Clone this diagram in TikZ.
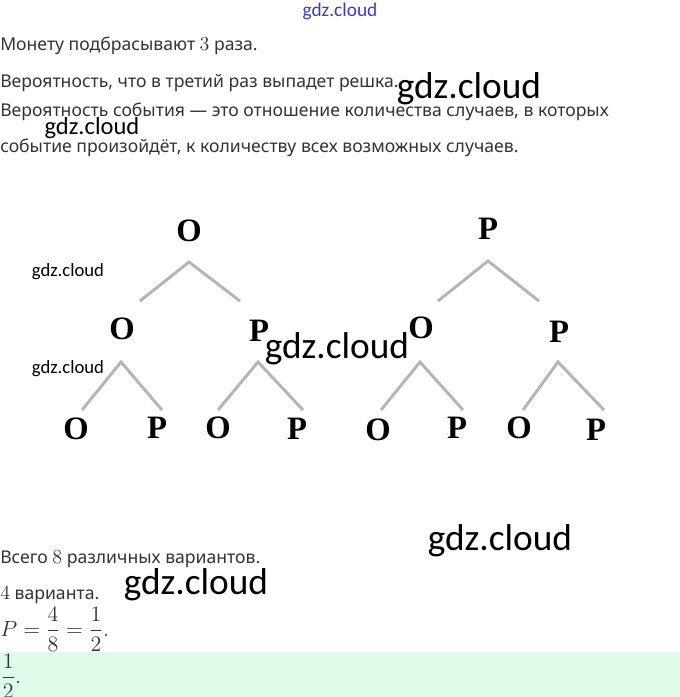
\RequirePackage{fix-cm}
\documentclass[tikz,border=0pt]{standalone}
\usepackage{amsmath}
\usepackage[no-math]{fontspec}
\setmainfont{Noto Sans}
\newfontfamily\treefont{Liberation Serif}
\newfontfamily\wmfont{Carlito}
\definecolor{txtc}{HTML}{333333}
\definecolor{linec}{HTML}{B5B5B5}
\definecolor{bandc}{HTML}{DDFCEA}
\definecolor{wmblue}{HTML}{3A3AD0}
\newcommand{\bignum}[1]{{\fontsize{15}{16}\selectfont$#1$}}
\begin{document}
\begin{tikzpicture}[x=0.75pt,y=-0.75pt,
  txt/.style={anchor=base west, inner sep=0pt, font=\fontsize{13.2}{16}\selectfont, text=txtc},
  mth/.style={anchor=base west, inner sep=0pt, font=\fontsize{16.5}{18}\selectfont, text=txtc},
  lt/.style={font=\treefont\bfseries\fontsize{24.5}{24.5}\selectfont, inner sep=0pt},
  br/.style={draw=linec, line width=2.2pt},
  wmbig/.style={font=\wmfont\fontsize{28}{28}\selectfont, inner sep=0pt},
  wmmid/.style={font=\wmfont\fontsize{18.4}{18.4}\selectfont, inner sep=0pt},
  wmsmall/.style={font=\wmfont\fontsize{14}{14}\selectfont, inner sep=0pt}]
\useasboundingbox (0,0) rectangle (680,697);
\fill[white] (0,0) rectangle (680,697);
\fill[bandc] (0,652) rectangle (680,697);

% texts
\node[txt] (t1) at (0,50) {Монету подбрасывают \bignum{3} раза.};
\node[txt] (t2) at (0,87) {Вероятность, что в третий раз выпадет решка.};
\node[txt] (t3) at (0,116) {Вероятность события — это отношение количества случаев, в которых};
\node[txt] (t4) at (0,152) {событие произойдёт, к количеству всех возможных случаев.};

% tree letters
\node[lt] (r1) at (189,231) {О};
\node[lt] (r2) at (488,229) {Р};
\node[lt] (m1) at (122,329) {О};
\node[lt] (m2) at (259,331) {Р};
\node[lt] (m3) at (421,328) {О};
\node[lt] (m4) at (559,332) {Р};
\node[lt] (b1) at (76,429) {О};
\node[lt] (b2) at (157,428) {Р};
\node[lt] (b3) at (218,428) {О};
\node[lt] (b4) at (297,429) {Р};
\node[lt] (b5) at (378,430) {О};
\node[lt] (b6) at (457,428) {Р};
\node[lt] (b7) at (519,428) {О};
\node[lt] (b8) at (596,430) {Р};

% branch points
\coordinate (ar1) at (189,262); \coordinate (ar1l) at (140,301); \coordinate (ar1r) at (240,301);
\coordinate (ar2) at (488,261); \coordinate (ar2l) at (438,301); \coordinate (ar2r) at (539,301);
\coordinate (am1) at (121,362); \coordinate (am1l) at (82,410); \coordinate (am1r) at (162,410);
\coordinate (am2) at (258,362); \coordinate (am2l) at (218,410); \coordinate (am2r) at (303,410);
\coordinate (am3) at (420,362); \coordinate (am3l) at (381,410); \coordinate (am3r) at (463,410);
\coordinate (am4) at (558,362); \coordinate (am4l) at (523,410); \coordinate (am4r) at (604,410);
\foreach \a in {ar1,ar2,am1,am2,am3,am4}{
  \draw[br] (\a l) -- (\a) -- (\a r);
}

% lower texts
\node[txt] (t5) at (0,563) {Всего \bignum{8} различных вариантов.};
\node[txt] (t6) at (0,599) {\bignum{4} варианта.};
\node[mth] (t7) at (0,636) {$P=\dfrac{4}{8}=\dfrac{1}{2}.$};
\node[mth] (t8) at (1,683) {$\dfrac{1}{2}.$};

% watermarks
\node[font=\wmfont\fontsize{14.5}{14.5}\selectfont, text=wmblue, inner sep=0pt] (w0) at (340,11) {gdz.cloud};
\node[wmbig] (w1) at (469,89) {gdz.cloud};
\node[wmmid] (w2) at (92,128) {gdz.cloud};
\node[wmsmall] (w3) at (68,272) {gdz.cloud};
\node[wmsmall] (w4) at (68,369) {gdz.cloud};
\node[wmbig] (w5) at (337,349) {gdz.cloud};
\node[wmbig] (w6) at (500,541) {gdz.cloud};
\node[wmbig] (w7) at (196,585) {gdz.cloud};
\end{tikzpicture}
\end{document}
